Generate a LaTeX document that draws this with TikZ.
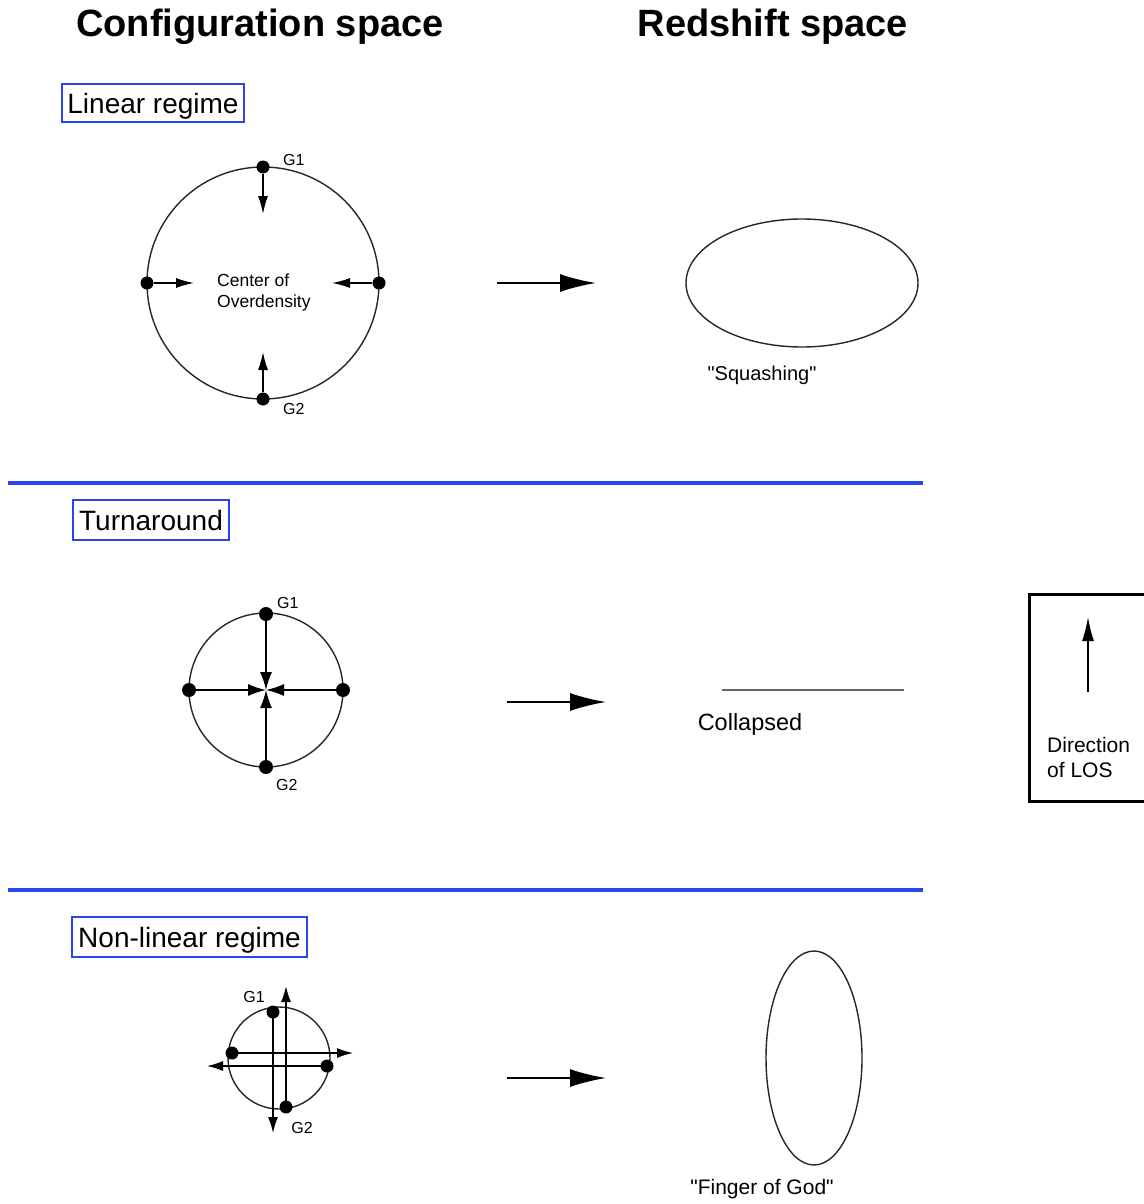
\documentclass[tikz,border=0pt]{standalone}
\usepackage{fontspec}
\setmainfont{Liberation Sans}[Ligatures=TeXOff]
\usetikzlibrary{arrows.meta,shapes.geometric}
\definecolor{rulecol}{RGB}{40,70,240}
\begin{document}
\begin{tikzpicture}[x=1pt,y=-1pt,
  dot/.style={circle,fill=black,inner sep=0pt,minimum size=13pt},
  ring/.style={draw=black!85,line width=1.4pt,inner sep=0pt},
  sarr/.style={line width=1.4pt,-{Latex[length=18pt,width=10pt]}},
  carr/.style={line width=1.4pt,-{Latex[length=18pt,width=12pt]}},
  barr/.style={line width=2pt,-{Latex[length=36pt,width=18pt]}},
  regime/.style={draw=rulecol,line width=1.8pt,inner sep=0pt,text height=22.5pt,text depth=1.5pt,font=\fontsize{28}{28}\selectfont},
  lab/.style={font=\fontsize{16}{16}\selectfont,inner sep=0pt},
  capt/.style={font=\fontsize{20}{24}\selectfont,inner sep=0pt},
  ttl/.style={font=\fontsize{38}{38}\selectfont\bfseries,inner sep=0pt,anchor=base},
  sepline/.style={draw=rulecol,line width=4pt}]
\useasboundingbox (0,0) rectangle (1143,1204);

% titles
\node[ttl] (t1) at (260,37) {Configuration space};
\node[ttl] (t2) at (773,37) {Redshift space};

% regime boxes
\node[regime,minimum width=182pt,minimum height=38pt] (r1) at (153,103) {Linear regime};
\node[regime,minimum width=156pt,minimum height=40pt] (r2) at (151,520) {Turnaround};
\node[regime,minimum width=235pt,minimum height=40pt] (r3) at (189.5,937) {Non-linear regime};

% separators
\coordinate (s1a) at (8,483); \coordinate (s1b) at (923,483);
\coordinate (s2a) at (8,890); \coordinate (s2b) at (923,890);
\draw[sepline] (s1a) -- (s1b);
\draw[sepline] (s2a) -- (s2b);

% ---- linear regime
\node[ring,circle,minimum size=232pt] (c1) at (263,283) {};
\node[dot] (d1t) at (263,167) {};
\node[dot] (d1b) at (263,399) {};
\node[dot] (d1l) at (147,283) {};
\node[dot] (d1r) at (379,283) {};
\coordinate (a1t) at (263,214);
\coordinate (a1b) at (263,352);
\coordinate (a1l) at (194,283);
\coordinate (a1r) at (332,283);
\draw[sarr] (d1t) -- (a1t);
\draw[sarr] (d1b) -- (a1b);
\draw[sarr] (d1l) -- (a1l);
\draw[sarr] (d1r) -- (a1r);
\node[lab,anchor=west] (g1a) at (283,160) {G1};
\node[lab,anchor=west] (g2a) at (283,409) {G2};
\node[font=\fontsize{17.5}{21}\selectfont,align=left,anchor=west,inner sep=0pt] (cod) at (217,292) {Center of\\Overdensity};

\coordinate (b1s) at (497,283); \coordinate (b1e) at (596,283);
\draw[barr] (b1s) -- (b1e);
\node[ring,ellipse,minimum width=232pt,minimum height=128pt] (e1) at (802,283) {};
\node[capt] (sq) at (762,375) {"Squashing"};

% ---- turnaround
\node[ring,circle,minimum size=154pt] (c2) at (266,690) {};
\node[dot,minimum size=14pt] (d2t) at (266,614) {};
\node[dot,minimum size=14pt] (d2b) at (266,767) {};
\node[dot,minimum size=14pt] (d2l) at (189,690) {};
\node[dot,minimum size=14pt] (d2r) at (343,690) {};
\draw[carr] (d2t) -- (c2.center);
\draw[carr] (d2b) -- (c2.center);
\draw[carr] (d2l) -- (c2.center);
\draw[carr] (d2r) -- (c2.center);
\node[lab,anchor=west] (g1b) at (277,603) {G1};
\node[lab,anchor=west] (g2b) at (276,785) {G2};

\coordinate (b2s) at (507,702); \coordinate (b2e) at (606,702);
\draw[barr] (b2s) -- (b2e);
\coordinate (cl1) at (722,690); \coordinate (cl2) at (904,690);
\draw[black!60,line width=2pt] (cl1) -- (cl2);
\node[font=\fontsize{23.5}{24}\selectfont,inner sep=0pt] (col) at (750,724) {Collapsed};

% LOS box
\node[draw,line width=3pt,minimum width=132pt,minimum height=207pt,anchor=north west,inner sep=0pt] (los) at (1028,593) {};
\coordinate (l1) at (1088,692); \coordinate (l2) at (1088,617);
\draw[line width=1.5pt,-{Latex[length=24pt,width=12pt]}] (l1) -- (l2);
\node[font=\fontsize{21}{25}\selectfont,align=left,anchor=west,inner sep=0pt] (dlos) at (1047,757) {Direction\\of LOS};

% ---- non-linear regime
\node[ring,circle,minimum size=102pt] (c3) at (279,1058) {};
\node[dot] (d3t) at (273,1012) {};
\node[dot] (d3b) at (286,1107) {};
\node[dot] (d3l) at (232,1053) {};
\node[dot] (d3r) at (327,1066) {};
\coordinate (a3t) at (273,1133);
\coordinate (a3b) at (286,986);
\coordinate (a3l) at (353,1053);
\coordinate (a3r) at (207,1066);
\draw[sarr,-{Latex[length=16pt,width=10pt]}] (d3t.center) -- (a3t);
\draw[sarr,-{Latex[length=16pt,width=10pt]}] (d3b.center) -- (a3b);
\draw[sarr,-{Latex[length=16pt,width=10pt]}] (d3l.center) -- (a3l);
\draw[sarr,-{Latex[length=16pt,width=10pt]}] (d3r.center) -- (a3r);
\node[lab] (g1c) at (254,997) {G1};
\node[lab] (g2c) at (302,1128) {G2};

\coordinate (b3s) at (507,1078); \coordinate (b3e) at (606,1078);
\draw[barr] (b3s) -- (b3e);
\node[ring,ellipse,minimum width=96pt,minimum height=214pt] (e3) at (814,1058) {};
\node[font=\fontsize{21}{24}\selectfont,inner sep=0pt] (fog) at (762,1189) {"Finger of God"};
\end{tikzpicture}
\end{document}
